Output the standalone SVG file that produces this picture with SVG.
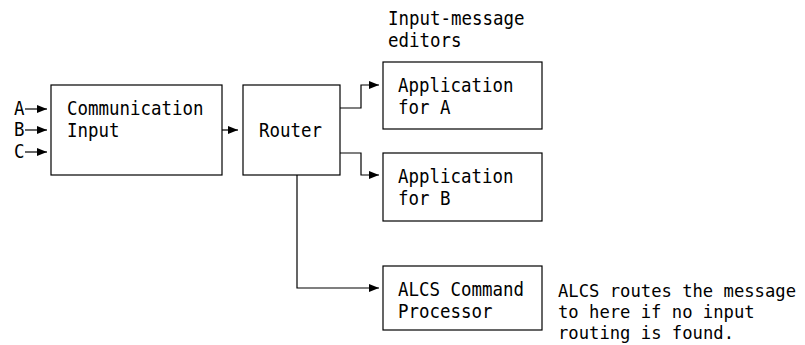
<svg xmlns="http://www.w3.org/2000/svg" width="805" height="345" viewBox="0 0 805 345">
<style>
text{font-family:"DejaVu Sans Mono","Liberation Mono",monospace;font-size:19px;fill:#000}
#note text{font-size:17.5px}
.box{fill:#fff;stroke:#000;stroke-width:1.2}
.ln{fill:none;stroke:#000;stroke-width:1.2}
</style>
<defs>
<marker id="ah" markerWidth="10" markerHeight="8" refX="10" refY="4" orient="auto" markerUnits="userSpaceOnUse">
<path d="M0,0 L10,4 L0,8 z" fill="#000"/>
</marker>
</defs>
<rect width="805" height="345" fill="#fff"/>
<g id="connectors">
<path class="ln" d="M25,109 H47" marker-end="url(#ah)"/>
<path class="ln" d="M25,130 H47" marker-end="url(#ah)"/>
<path class="ln" d="M25,152 H47" marker-end="url(#ah)"/>
<path class="ln" d="M222,130 H238" marker-end="url(#ah)"/>
<path class="ln" d="M340,108 H361 V85 H379" marker-end="url(#ah)"/>
<path class="ln" d="M340,153 H361 V175 H379" marker-end="url(#ah)"/>
<path class="ln" d="M297,175 V288 H379" marker-end="url(#ah)"/>
</g>
<g id="inputs">
<text x="14" y="115" textLength="10.5" lengthAdjust="spacingAndGlyphs">A</text>
<text x="14" y="136" textLength="10.5" lengthAdjust="spacingAndGlyphs">B</text>
<text x="14" y="158" textLength="10.5" lengthAdjust="spacingAndGlyphs">C</text>
</g>
<g id="comm">
<rect class="box" x="51" y="85" width="171" height="90"/>
<text x="67" y="115" textLength="136.5" lengthAdjust="spacingAndGlyphs">Communication</text>
<text x="67" y="137" textLength="52.5" lengthAdjust="spacingAndGlyphs">Input</text>
</g>
<g id="router">
<rect class="box" x="243" y="85" width="97" height="90"/>
<text x="259" y="137" textLength="63" lengthAdjust="spacingAndGlyphs">Router</text>
</g>
<g id="editors-label">
<text x="388" y="25" textLength="136.5" lengthAdjust="spacingAndGlyphs">Input-message</text>
<text x="388" y="47" textLength="73.5" lengthAdjust="spacingAndGlyphs">editors</text>
</g>
<g id="appA">
<rect class="box" x="383" y="62" width="159" height="67"/>
<text x="398" y="92" textLength="115.5" lengthAdjust="spacingAndGlyphs">Application</text>
<text x="398" y="114" textLength="52.5" lengthAdjust="spacingAndGlyphs">for A</text>
</g>
<g id="appB">
<rect class="box" x="383" y="153" width="159" height="68"/>
<text x="398" y="183" textLength="115.5" lengthAdjust="spacingAndGlyphs">Application</text>
<text x="398" y="205" textLength="52.5" lengthAdjust="spacingAndGlyphs">for B</text>
</g>
<g id="alcs">
<rect class="box" x="383" y="266" width="159" height="64"/>
<text x="398" y="296" textLength="126" lengthAdjust="spacingAndGlyphs">ALCS Command</text>
<text x="398" y="318" textLength="94.5" lengthAdjust="spacingAndGlyphs">Processor</text>
</g>
<g id="note">
<text x="558" y="297" textLength="238" lengthAdjust="spacingAndGlyphs">ALCS routes the message</text>
<text x="558" y="318" textLength="196.6" lengthAdjust="spacingAndGlyphs">to here if no input</text>
<text x="558" y="339" textLength="176" lengthAdjust="spacingAndGlyphs">routing is found.</text>
</g>
</svg>
